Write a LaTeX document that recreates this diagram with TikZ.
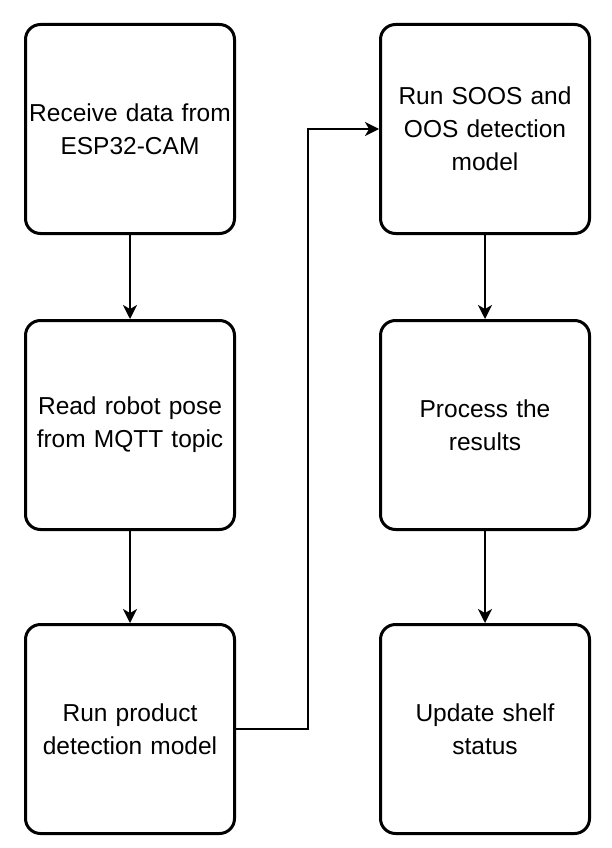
\documentclass[tikz,border=0pt]{standalone}
\usepackage{fontspec}
\setmainfont{Liberation Sans}
\usetikzlibrary{positioning,arrows.meta}

\begin{document}
\begin{tikzpicture}[x=1pt, y=1pt,
    procbox/.style={draw, line width=3pt, rounded corners=15pt, minimum width=209pt, minimum height=209pt,
        text width=205pt, align=center, font=\fontsize{24.5}{33}\selectfont, inner sep=0pt},
    flow/.style={-{Stealth[length=14pt, width=14pt, inset=4pt]}, line width=1.8pt}]
    \useasboundingbox (0, 0) rectangle (612, -848);

    \node[procbox] (receive) at (130, -129) {Receive data from\\ESP32-CAM};
    \node[procbox, below=84pt of receive] (pose) {Read robot pose\\from MQTT topic};
    \node[procbox, below=92pt of pose] (product) {Run product\\detection model};

    \node[procbox, right=143pt of receive] (soos) {Run SOOS and\\OOS detection\\model};
    \node[procbox, below=84pt of soos] (process) {Process the\\results};
    \node[procbox, below=92pt of process] (shelf) {Update shelf\\status};

    \draw[flow] (receive) -- (pose);
    \draw[flow] (pose) -- (product);
    \draw[flow] (product.east) -- ++(72, 0) |- (soos.west);
    \draw[flow] (soos) -- (process);
    \draw[flow] (process) -- (shelf);
\end{tikzpicture}
\end{document}
